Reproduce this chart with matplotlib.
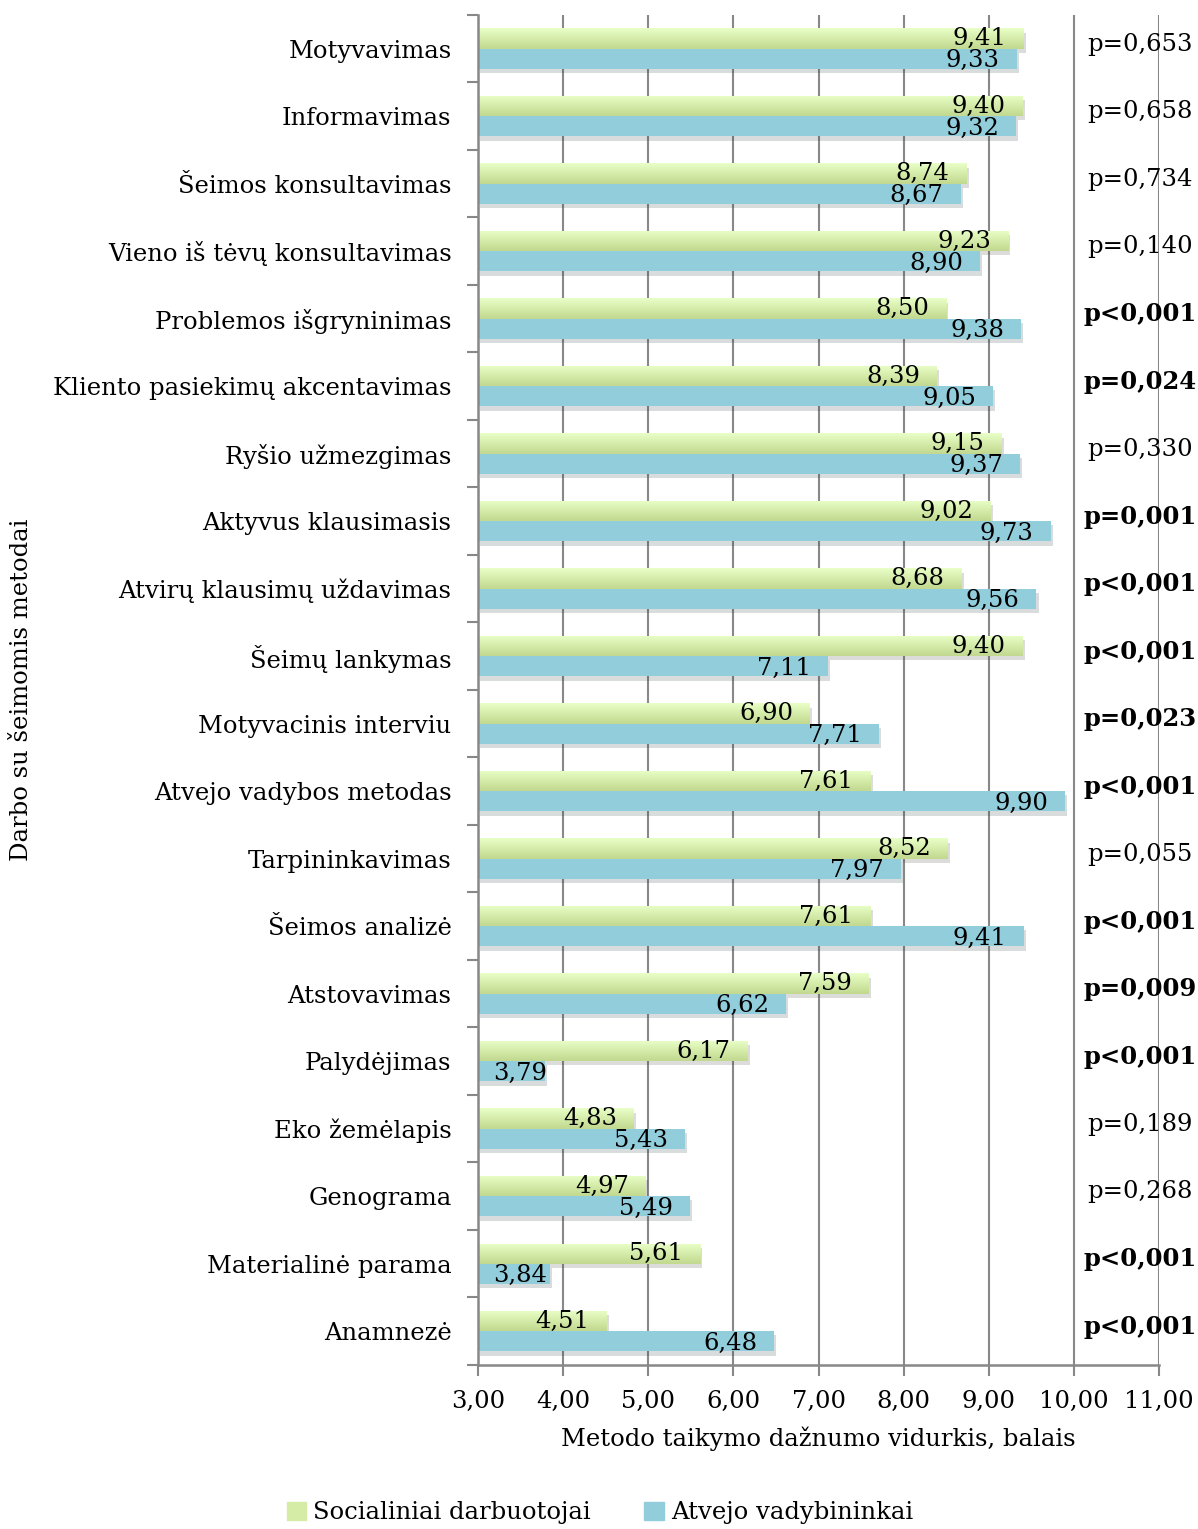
import numpy as np
import matplotlib
matplotlib.use("Agg")
import matplotlib.pyplot as plt
import matplotlib.patheffects as pe
from matplotlib.patches import Patch

methods = ["Motyvavimas", "Informavimas", "Šeimos konsultavimas",
           "Vieno iš tėvų konsultavimas", "Problemos išgryninimas",
           "Kliento pasiekimų akcentavimas", "Ryšio užmezgimas",
           "Aktyvus klausimasis", "Atvirų klausimų uždavimas", "Šeimų lankymas",
           "Motyvacinis interviu", "Atvejo vadybos metodas", "Tarpininkavimas",
           "Šeimos analizė", "Atstovavimas", "Palydėjimas", "Eko žemėlapis",
           "Genograma", "Materialinė parama", "Anamnezė"]
social = [9.41, 9.40, 8.74, 9.23, 8.50, 8.39, 9.15, 9.02, 8.68, 9.40,
          6.90, 7.61, 8.52, 7.61, 7.59, 6.17, 4.83, 4.97, 5.61, 4.51]
case_mgr = [9.33, 9.32, 8.67, 8.90, 9.38, 9.05, 9.37, 9.73, 9.56, 7.11,
            7.71, 9.90, 7.97, 9.41, 6.62, 3.79, 5.43, 5.49, 3.84, 6.48]
pvals = ["p=0,653", "p=0,658", "p=0,734", "p=0,140", "p<0,001", "p=0,024",
         "p=0,330", "p=0,001", "p<0,001", "p<0,001", "p=0,023", "p<0,001",
         "p=0,055", "p<0,001", "p=0,009", "p<0,001", "p=0,189", "p=0,268",
         "p<0,001", "p<0,001"]
significant = [False, False, False, False, True, True, False, True, True, True,
               True, True, False, True, True, True, False, False, True, True]

plt.rcParams['font.family'] = ['DejaVu Serif']
FS = 17.5

fig = plt.figure(figsize=(11.98, 15.29), dpi=100)
ax = fig.add_axes([478/1198, 164/1529, (1159-478)/1198, (1365-15)/1529])

y = np.arange(len(methods))
h = 0.3
shadow = [pe.SimplePatchShadow(offset=(1.5, -3), alpha=0.18), pe.Normal()]
bars_g = ax.barh(y - h/2, [v - 3 for v in social], h, left=3, color='#d4eca6',
                 zorder=2, path_effects=shadow)
bars_b = ax.barh(y + h/2, [v - 3 for v in case_mgr], h, left=3, color='#92cddc',
                 zorder=2, path_effects=shadow)

# gradient fill for green bars
top = np.array([0.91, 1.00, 0.78])
bot = np.array([0.76, 0.85, 0.56])
t = np.linspace(0, 1, 32)[:, None]
grad = (top * (1 - t) + bot * t)[:, None, :]
for p in bars_g:
    x0, yy, w, hh = p.get_x(), p.get_y(), p.get_width(), p.get_height()
    im = ax.imshow(grad, extent=(x0, x0 + w, yy + hh, yy), aspect='auto',
                   zorder=2.1, interpolation='bilinear')
    im.set_clip_path(p)


def fmt(v):
    return f"{v:.2f}".replace('.', ',')


for i in range(len(methods)):
    for v, yy in ((social[i], y[i] - h/2), (case_mgr[i], y[i] + h/2 + 0.03)):
        if v - 3 < 1:
            ax.text(3.18, yy, fmt(v), ha='left', va='center', fontsize=FS, zorder=4)
        else:
            ax.text(v - 0.2, yy, fmt(v), ha='right', va='center', fontsize=FS, zorder=4)
    ax.text(10.78, y[i] - 0.07, pvals[i], ha='center', va='center', fontsize=FS,
            fontweight='bold' if significant[i] else 'normal', zorder=4)

ax.set_xlim(3, 11)
ax.set_ylim(len(methods) - 0.5, -0.5)
ax.set_xticks(np.arange(3, 12))
ax.set_xticklabels([fmt(v) for v in np.arange(3, 12)], fontsize=FS)
ax.set_yticks(y)
ax.set_yticklabels(methods, fontsize=FS)
ax.set_yticks(np.arange(-0.5, len(methods)), minor=True)
ax.tick_params(axis='y', which='major', length=0, pad=19)
ax.tick_params(axis='y', which='minor', length=8, width=1.5, color='#888888')
ax.tick_params(axis='x', length=8, width=1.5, color='#888888', pad=10)
ax.grid(axis='x', color='#888888', linewidth=1.5, zorder=0)
ax.set_axisbelow(True)
for s in ['top', 'right']:
    ax.spines[s].set_visible(False)
for s in ['left', 'bottom']:
    ax.spines[s].set_color('#888888')
    ax.spines[s].set_linewidth(1.8)

ax.set_xlabel("Metodo taikymo dažnumo vidurkis, balais", fontsize=FS, labelpad=10)
fig.text(22/1198, 1 - 690/1529, "Darbo su šeimomis metodai", rotation=90,
         ha='center', va='center', fontsize=FS)

handles = [Patch(color='#d4eca6'), Patch(color='#92cddc')]
fig.legend(handles, ["Socialiniai darbuotojai", "Atvejo vadybininkai"],
           loc='center', bbox_to_anchor=(600/1198, 1 - 1513/1529), ncol=2,
           frameon=False, fontsize=FS, handlelength=0.8, handleheight=0.8,
           handletextpad=0.3, columnspacing=2.2)

fig.savefig("out.png", dpi=100)
